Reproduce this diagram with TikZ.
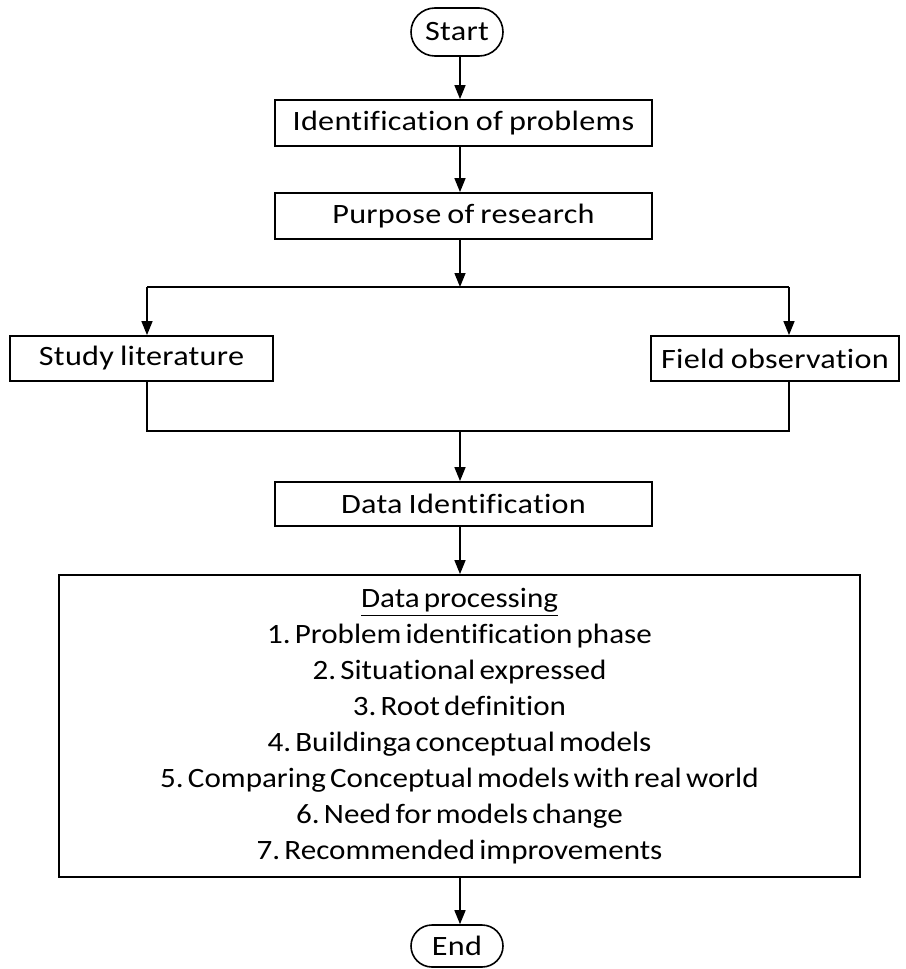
\documentclass[tikz,border=0pt]{standalone}
\usepackage{fontspec}
\setmainfont[FakeStretch=1.11,WordSpace=0.6,Ligatures=NoCommon]{Carlito}
\newfontfamily\boxfont[FakeStretch=1.15,WordSpace=0.8,LetterSpace=1,Ligatures=NoCommon]{Carlito}
\frenchspacing
\usetikzlibrary{arrows.meta,shapes.misc}

\tikzstyle{term} = [rounded rectangle, draw, line width=0.8pt, minimum width=46pt, minimum height=24pt, inner sep=0pt, font=\boxfont\fontsize{14}{18}\selectfont]
\tikzstyle{box} = [rectangle, draw, line width=0.9pt, minimum height=23pt, inner sep=0pt, font=\boxfont\fontsize{14}{18}\selectfont]
\tikzstyle{flow} = [-{Triangle[length=7pt,width=5.5pt]}, line width=0.75pt]
\tikzstyle{link} = [line width=0.75pt]

\begin{document}
\begin{tikzpicture}[x=0.5pt,y=-0.5pt]
\useasboundingbox (0,0) rectangle (905,969);
\node [term] (start) at (457,32) {Start};
\node [box, minimum width=188.5pt] (ident) at (463.5,123) {Identification of problems};
\node [box, minimum width=188.5pt] (purpose) at (463.5,216) {Purpose of research};
\node [box, minimum width=131.5pt, minimum height=22.5pt] (study) at (141.5,358.5) {Study literature};
\node [box, minimum width=124pt, minimum height=22.5pt] (field) at (775,358.5) {Field observation};
\node [box, minimum width=188.5pt, minimum height=22pt] (dataid) at (463.5,504) {Data Identification};
\node [box, minimum width=400.5pt, minimum height=151pt, align=center, font=\rmfamily\fontsize{14}{18}\selectfont] (process) at (459.5,726)
	{\underline{Data processing}\\
	1. Problem identification phase\\
	2. Situational expressed\\
	3. Root definition\\
	4. Buildinga conceptual models\\
	5. Comparing Conceptual models with real world\\
	6. Need for models change\\
	7. Recommended improvements};
\node [term, minimum height=21pt] (end) at (457,946) {End};

% split and join points
\coordinate (split) at (460,287);
\coordinate (sl) at (147,287);
\coordinate (sr) at (789,287);
\coordinate (jl) at (147,431);
\coordinate (jr) at (789,431);
\coordinate (join) at (460,431);

\draw [flow] (start.south -| split) -- (ident.north -| split);
\draw [flow] (ident.south -| split) -- (purpose.north -| split);
\draw [flow] (purpose.south -| split) -- (split);
\draw [link] (sl) -- (sr);
\draw [flow] (sl) -- (sl |- study.north);
\draw [flow] (sr) -- (sr |- field.north);
\draw [link] (sl |- study.south) -- (jl) -- (jr) -- (sr |- field.south);
\draw [flow] (join) -- (join |- dataid.north);
\draw [flow] (dataid.south -| join) -- (join |- process.north);
\draw [flow] (process.south -| join) -- (join |- end.north);
\end{tikzpicture}
\end{document}
